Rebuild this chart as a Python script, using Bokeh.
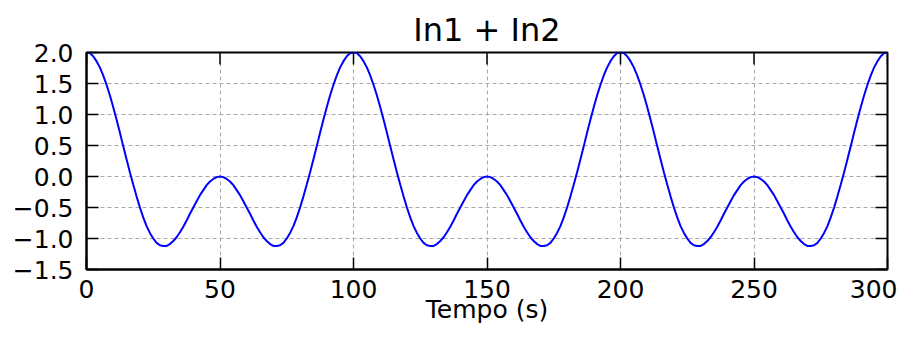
from bokeh.plotting import figure
from bokeh.models import FixedTicker, Range1d
from bokeh.embed import file_html
from bokeh.resources import INLINE

time_s = [i * 1.25 for i in range(241)]
in_sum = [
    2.00, 1.99, 1.94, 1.86, 1.76, 1.63, 1.48, 1.31, 1.12, 0.92, 0.71, 0.49, 0.28, 0.07,
    -0.13, -0.32, -0.50, -0.66, -0.80, -0.91, -1.00, -1.07, -1.11, -1.12, -1.12, -1.09,
    -1.04, -0.98, -0.90, -0.81, -0.71, -0.60, -0.50, -0.40, -0.30, -0.22, -0.14, -0.08,
    -0.04, -0.01, 0.00,
    -0.01, -0.04, -0.08, -0.14, -0.22, -0.30, -0.40, -0.50, -0.60, -0.71, -0.81, -0.90,
    -0.98, -1.04, -1.09, -1.12, -1.12, -1.11, -1.07, -1.00, -0.91, -0.80, -0.66, -0.50,
    -0.32, -0.13, 0.07, 0.28, 0.49, 0.71, 0.92, 1.12, 1.31, 1.48, 1.63, 1.76, 1.86, 1.94, 1.99,
    2.00, 1.99, 1.94, 1.86, 1.76, 1.63, 1.48, 1.31, 1.12, 0.92, 0.71, 0.49, 0.28, 0.07,
    -0.13, -0.32, -0.50, -0.66, -0.80, -0.91, -1.00, -1.07, -1.11, -1.12, -1.12, -1.09,
    -1.04, -0.98, -0.90, -0.81, -0.71, -0.60, -0.50, -0.40, -0.30, -0.22, -0.14, -0.08,
    -0.04, -0.01, 0.00,
    -0.01, -0.04, -0.08, -0.14, -0.22, -0.30, -0.40, -0.50, -0.60, -0.71, -0.81, -0.90,
    -0.98, -1.04, -1.09, -1.12, -1.12, -1.11, -1.07, -1.00, -0.91, -0.80, -0.66, -0.50,
    -0.32, -0.13, 0.07, 0.28, 0.49, 0.71, 0.92, 1.12, 1.31, 1.48, 1.63, 1.76, 1.86, 1.94, 1.99,
    2.00, 1.99, 1.94, 1.86, 1.76, 1.63, 1.48, 1.31, 1.12, 0.92, 0.71, 0.49, 0.28, 0.07,
    -0.13, -0.32, -0.50, -0.66, -0.80, -0.91, -1.00, -1.07, -1.11, -1.12, -1.12, -1.09,
    -1.04, -0.98, -0.90, -0.81, -0.71, -0.60, -0.50, -0.40, -0.30, -0.22, -0.14, -0.08,
    -0.04, -0.01, 0.00,
    -0.01, -0.04, -0.08, -0.14, -0.22, -0.30, -0.40, -0.50, -0.60, -0.71, -0.81, -0.90,
    -0.98, -1.04, -1.09, -1.12, -1.12, -1.11, -1.07, -1.00, -0.91, -0.80, -0.66, -0.50,
    -0.32, -0.13, 0.07, 0.28, 0.49, 0.71, 0.92, 1.12, 1.31, 1.48, 1.63, 1.76, 1.86, 1.94, 1.99,
    2.00,
]
x_ticks = [0, 50, 100, 150, 200, 250, 300]
y_ticks = [-1.5, -1.0, -0.5, 0.0, 0.5, 1.0, 1.5, 2.0]
y_tick_labels = {t: ("%.1f" % t).replace("-", "\u2212") for t in y_ticks}
x_min, x_max = 0, 300
y_min, y_max = -1.5, 2.0

FONT = "DejaVu Sans"
TICK_SIZE = "25px"

p = figure(width=897, height=327, output_backend="svg", toolbar_location=None,
           x_range=Range1d(x_min, x_max), y_range=Range1d(y_min, y_max),
           min_border_left=86, min_border_right=10, min_border_top=52,
           min_border_bottom=58)

p.title.text = "In1 + In2"
p.title.align = "center"
p.title.text_font = FONT
p.title.text_font_size = "32px"
p.title.text_font_style = "normal"
p.title.text_color = "#000000"
p.title.standoff = 7

for g in (p.xgrid[0], p.ygrid[0]):
    g.grid_line_color = "#a8a8a8"
    g.grid_line_dash = "4 3"
    g.grid_line_width = 1

p.line(time_s, in_sum, line_color="#0000ff", line_width=2)

# inward ticks on the top and right edges (half of each dash is clipped by the frame)
p.scatter(x_ticks, [y_max] * len(x_ticks), marker="dash", angle=1.5708, size=24,
          line_color="#000000", line_width=1.5)
p.scatter([x_max] * len(y_ticks), y_ticks, marker="dash", size=24,
          line_color="#000000", line_width=1.5)

p.outline_line_color = "#000000"
p.outline_line_width = 2

for ax in (p.xaxis[0], p.yaxis[0]):
    ax.major_label_text_font = FONT
    ax.major_label_text_font_size = TICK_SIZE
    ax.major_label_text_color = "#000000"
    ax.axis_line_color = "#000000"
    ax.axis_line_width = 2
    ax.major_tick_in = 12
    ax.major_tick_out = 0
    ax.major_tick_line_width = 1.5
    ax.major_tick_line_color = "#000000"
    ax.minor_tick_line_color = None

p.xaxis[0].ticker = FixedTicker(ticks=x_ticks)
p.yaxis[0].ticker = FixedTicker(ticks=y_ticks)
p.yaxis[0].major_label_overrides = y_tick_labels
p.xaxis[0].major_label_standoff = 10
p.yaxis[0].major_label_standoff = 13

p.xaxis[0].axis_label = "Tempo (s)"
p.xaxis[0].axis_label_text_font = FONT
p.xaxis[0].axis_label_text_font_size = TICK_SIZE
p.xaxis[0].axis_label_text_font_style = "normal"
p.xaxis[0].axis_label_text_color = "#000000"
p.xaxis[0].axis_label_standoff = -6

open("out.html", "w").write(file_html(p, INLINE))
